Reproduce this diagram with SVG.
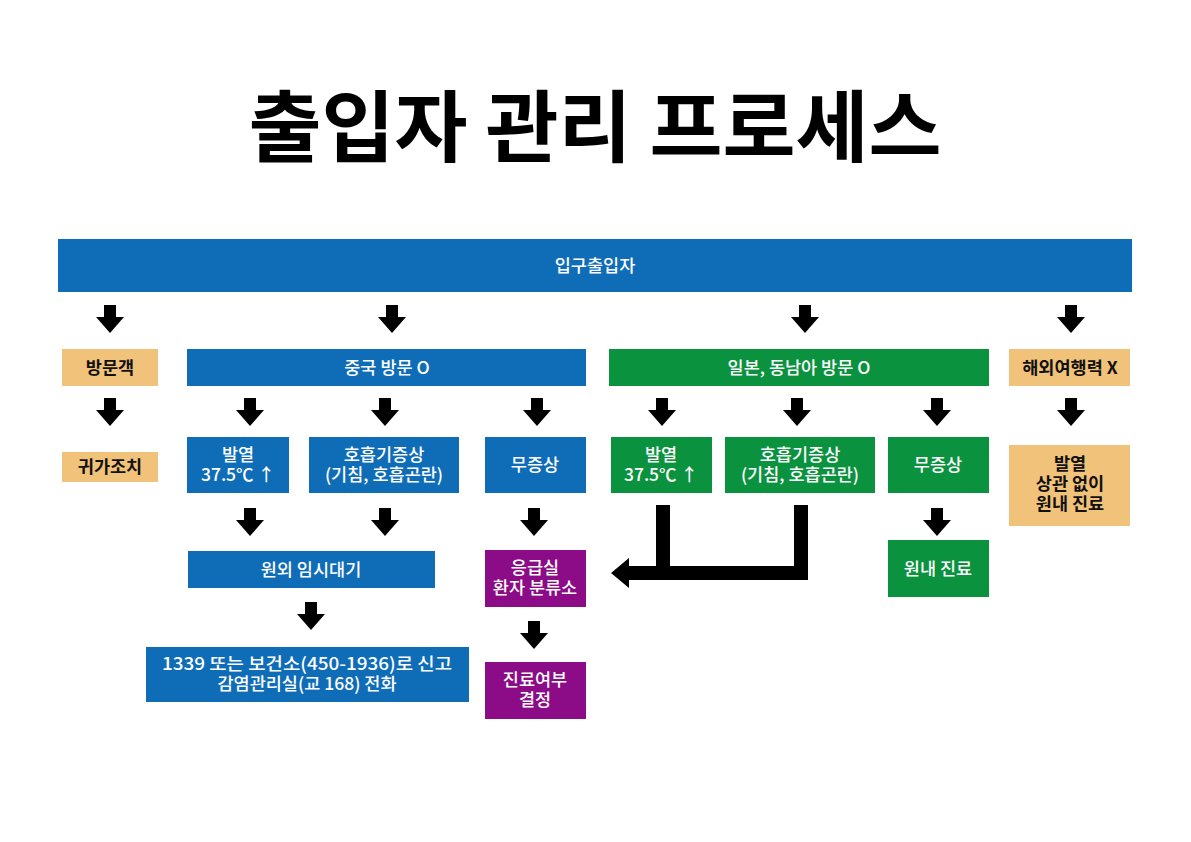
<svg xmlns="http://www.w3.org/2000/svg" width="1191" height="842" viewBox="0 0 1191 842">
<style>
.t{font-family:"Noto Sans CJK KR","Noto Sans",sans-serif;font-size:17.5px;font-weight:500;fill:#fff;text-anchor:middle}
.k{fill:#111;font-weight:700}
.blue{fill:#0f6db8}
.green{fill:#0b923f}
.beige{fill:#f1c27a}
.purple{fill:#8b0c86}
.title{font-family:"Noto Sans CJK KR",sans-serif;font-size:78px;font-weight:700;fill:#000;text-anchor:middle}
</style>
<defs>
<path id="da" d="M-6,0 H6 V12 H14 L0,28 L-14,12 H-6 Z" fill="#000"/>
</defs>
<rect width="1191" height="842" fill="#fff"/>
<text class="title" x="595" y="156" textLength="693" lengthAdjust="spacingAndGlyphs">출입자 관리 프로세스</text>

<g id="n-top"><rect class="blue" x="58" y="239" width="1074" height="53"/><text class="t" x="595" y="272">입구출입자</text></g>

<g id="n-visitor"><rect class="beige" x="62" y="349" width="96" height="37"/><text class="t k" x="110" y="374">방문객</text></g>
<g id="n-china"><rect class="blue" x="187" y="349" width="399" height="37"/><text class="t" x="387" y="374">중국 방문 O</text></g>
<g id="n-sea"><rect class="green" x="609" y="349" width="380" height="37"/><text class="t" x="799" y="374">일본, 동남아 방문 O</text></g>
<g id="n-none"><rect class="beige" x="1009" y="349" width="121" height="37"/><text class="t k" x="1070" y="374">해외여행력 X</text></g>

<g id="n-home"><rect class="beige" x="62" y="452" width="96" height="30"/><text class="t k" x="110" y="473">귀가조치</text></g>
<g id="n-c-fever"><rect class="blue" x="187" y="437" width="102" height="56"/><text class="t" x="238" y="461">발열<tspan x="238" dy="20">37.5℃ ↑</tspan></text></g>
<g id="n-c-resp"><rect class="blue" x="309" y="437" width="150" height="56"/><text class="t" x="384" y="461">호흡기증상<tspan x="384" dy="20">(기침, 호흡곤란)</tspan></text></g>
<g id="n-c-none"><rect class="blue" x="485" y="437" width="101" height="56"/><text class="t" x="535" y="471">무증상</text></g>
<g id="n-s-fever"><rect class="green" x="611" y="437" width="101" height="56"/><text class="t" x="661" y="461">발열<tspan x="661" dy="20">37.5℃ ↑</tspan></text></g>
<g id="n-s-resp"><rect class="green" x="725" y="437" width="150" height="56"/><text class="t" x="800" y="461">호흡기증상<tspan x="800" dy="20">(기침, 호흡곤란)</tspan></text></g>
<g id="n-s-none"><rect class="green" x="888" y="437" width="101" height="56"/><text class="t" x="938" y="471">무증상</text></g>
<g id="n-any"><rect class="beige" x="1009" y="445" width="121" height="81"/><text class="t k" x="1070" y="470">발열<tspan x="1070" dy="20">상관 없이</tspan><tspan x="1070" dy="20">원내 진료</tspan></text></g>

<g id="n-wait"><rect class="blue" x="188" y="551" width="247" height="37"/><text class="t" x="311" y="576">원외 임시대기</text></g>
<g id="n-er"><rect class="purple" x="485" y="550" width="101" height="57"/><text class="t" x="535" y="574">응급실<tspan x="535" dy="20">환자 분류소</tspan></text></g>
<g id="n-in"><rect class="green" x="888" y="540" width="101" height="57"/><text class="t" x="938" y="575">원내 진료</text></g>

<g id="n-report"><rect class="blue" x="146" y="647" width="323" height="55"/><text class="t" x="307" y="670" textLength="290" lengthAdjust="spacingAndGlyphs">1339 또는 보건소(450-1936)로 신고</text><text class="t" x="307" y="690">감염관리실(교 168) 전화</text></g>
<g id="n-decide"><rect class="purple" x="485" y="662" width="101" height="57"/><text class="t" x="535" y="686">진료여부<tspan x="535" dy="20">결정</tspan></text></g>

<g id="connectors">
<use href="#da" x="110" y="305"/><use href="#da" x="392" y="305"/><use href="#da" x="805" y="305"/><use href="#da" x="1071" y="305"/>
<use href="#da" x="110" y="398"/><use href="#da" x="250" y="398"/><use href="#da" x="385" y="398"/><use href="#da" x="537" y="398"/><use href="#da" x="662" y="398"/><use href="#da" x="797" y="398"/><use href="#da" x="937" y="398"/><use href="#da" x="1071" y="398"/>
<use href="#da" x="250" y="508"/><use href="#da" x="385" y="508"/><use href="#da" x="534" y="508"/><use href="#da" x="937" y="508"/>
<use href="#da" x="311" y="602"/><use href="#da" x="534" y="621"/>
<path d="M656,505 H670 V566 H794 V505 H808 V580 H629 V588 L611,573 L629,558 V566 H656 Z" fill="#000"/>
</g>
</svg>
